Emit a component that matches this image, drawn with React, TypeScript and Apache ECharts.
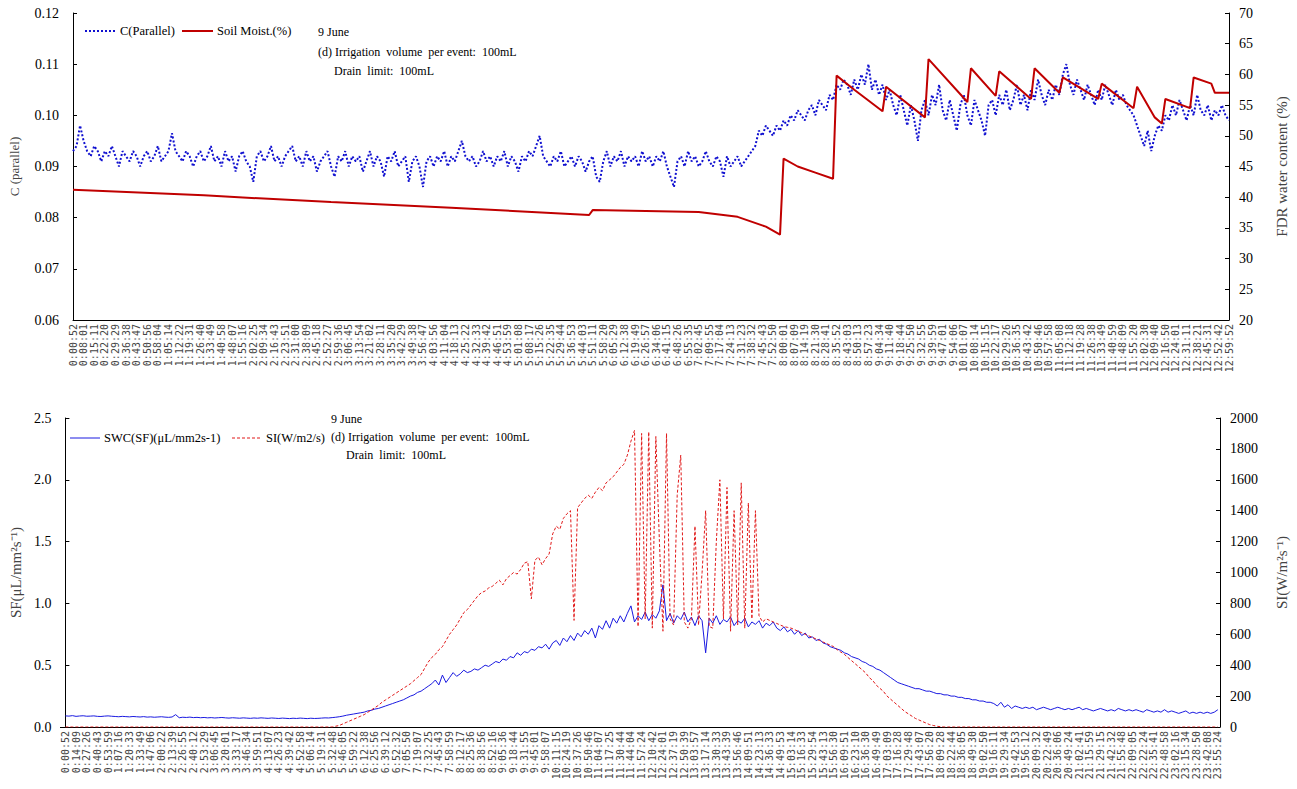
import React, { useEffect, useRef } from "react";
import * as echarts from "echarts";

const topTickLabels = ["0:00:52","0:08:01","0:15:11","0:22:20","0:29:29","0:36:38","0:43:47","0:50:56","0:58:04","1:05:14","1:12:22","1:19:31","1:26:40","1:33:49","1:40:58","1:48:07","1:55:16","2:02:25","2:09:34","2:16:43","2:23:51","2:31:00","2:38:09","2:45:18","2:52:27","2:59:36","3:06:45","3:13:54","3:21:02","3:28:11","3:35:20","3:42:29","3:49:38","3:56:47","4:03:56","4:11:04","4:18:13","4:25:22","4:32:33","4:39:42","4:46:51","4:53:59","5:01:08","5:08:17","5:15:26","5:22:35","5:29:44","5:36:53","5:44:03","5:51:11","5:58:20","6:05:29","6:12:38","6:19:49","6:26:57","6:34:06","6:41:15","6:48:26","6:55:35","7:02:45","7:09:55","7:17:04","7:24:13","7:31:23","7:38:32","7:45:43","7:52:50","8:00:01","8:07:09","8:14:19","8:21:30","8:28:41","8:35:52","8:43:03","8:50:13","8:57:23","9:04:34","9:11:40","9:18:44","9:25:50","9:32:55","9:39:59","9:47:01","9:54:06","10:01:07","10:08:14","10:15:15","10:22:17","10:29:26","10:36:35","10:43:42","10:50:46","10:57:58","11:05:08","11:12:18","11:19:28","11:26:38","11:33:49","11:40:59","11:48:09","11:55:20","12:02:30","12:09:40","12:16:50","12:24:01","12:31:11","12:38:21","12:45:31","12:52:42","12:59:52"];

const bottomTickLabels = ["0:00:52","0:14:09","0:27:26","0:40:43","0:53:59","1:07:16","1:20:33","1:33:49","1:47:06","2:00:22","2:13:39","2:26:55","2:40:12","2:53:29","3:06:45","3:20:01","3:33:17","3:46:34","3:59:51","4:13:07","4:26:23","4:39:42","4:52:58","5:06:14","5:19:31","5:32:48","5:46:05","5:59:22","6:12:38","6:25:56","6:39:12","6:52:32","7:05:50","7:19:07","7:32:25","7:45:43","7:58:59","8:12:17","8:25:36","8:38:56","8:52:16","9:05:36","9:18:44","9:31:55","9:45:01","9:58:07","10:11:15","10:24:19","10:37:26","10:50:46","11:04:07","11:17:25","11:30:44","11:44:04","11:57:24","12:10:42","12:24:01","12:37:19","12:50:39","13:03:57","13:17:14","13:30:33","13:43:39","13:56:46","14:09:51","14:23:13","14:36:33","14:49:53","15:03:14","15:16:33","15:29:54","15:43:13","15:56:30","16:09:51","16:23:10","16:36:30","16:49:49","17:03:09","17:16:28","17:29:48","17:43:07","17:56:20","18:09:28","18:22:44","18:36:05","18:49:30","19:02:50","19:16:11","19:29:34","19:42:53","19:56:12","20:09:32","20:22:49","20:36:06","20:49:24","21:02:41","21:15:59","21:29:15","21:42:32","21:55:48","22:09:05","22:22:24","22:35:41","22:48:58","23:02:16","23:15:34","23:28:50","23:42:08","23:55:24"];

const seriesNames = ["C(Parallel)", "Soil Moist.(%)", "SWC(SF)(μL/mm2s-1)", "SI(W/m2/s)"];
const noteLines = ["9 June", "(d) Irrigation  volume  per event:  100mL", "Drain  limit:  100mL"];

// C(Parallel), 3 samples per top tick interval
const cParallel = [
0.093,0.094,0.098,0.095,0.093,0.092,0.094,0.093,0.091,0.093,0.092,0.094,0.092,0.090,0.093,0.092,0.091,0.093,0.092,0.090,
0.092,0.093,0.091,0.092,0.094,0.091,0.092,0.093,0.0965,0.093,0.092,0.091,0.093,0.092,0.090,0.092,0.093,0.091,0.092,0.094,
0.091,0.092,0.090,0.093,0.091,0.092,0.089,0.092,0.093,0.091,0.090,0.087,0.092,0.093,0.091,0.092,0.094,0.091,0.092,0.090,
0.092,0.093,0.094,0.091,0.092,0.090,0.093,0.091,0.092,0.089,0.091,0.092,0.093,0.090,0.088,0.092,0.091,0.093,0.090,0.092,
0.091,0.092,0.089,0.091,0.093,0.090,0.092,0.091,0.088,0.092,0.091,0.093,0.090,0.091,0.092,0.087,0.091,0.092,0.090,0.086,
0.091,0.092,0.090,0.092,0.091,0.093,0.090,0.092,0.091,0.093,0.095,0.092,0.091,0.092,0.090,0.091,0.093,0.091,0.092,0.090,
0.092,0.091,0.093,0.090,0.092,0.091,0.089,0.092,0.091,0.093,0.092,0.094,0.096,0.092,0.091,0.090,0.092,0.091,0.093,0.090,
0.091,0.092,0.090,0.092,0.091,0.089,0.091,0.092,0.088,0.087,0.091,0.093,0.090,0.092,0.091,0.093,0.090,0.092,0.091,0.092,
0.090,0.093,0.091,0.092,0.090,0.092,0.091,0.093,0.090,0.088,0.086,0.091,0.092,0.090,0.093,0.091,0.092,0.090,0.091,0.093,
0.091,0.090,0.092,0.091,0.088,0.092,0.090,0.091,0.092,0.090,0.091,0.092,0.093,0.094,0.097,0.096,0.098,0.097,0.096,0.098,
0.097,0.099,0.098,0.100,0.099,0.101,0.100,0.099,0.101,0.102,0.100,0.103,0.102,0.101,0.104,0.103,0.106,0.105,0.107,0.106,
0.104,0.107,0.105,0.108,0.106,0.110,0.105,0.107,0.104,0.106,0.103,0.105,0.102,0.100,0.104,0.101,0.098,0.102,0.099,0.095,
0.101,0.103,0.100,0.104,0.102,0.106,0.101,0.099,0.103,0.100,0.097,0.102,0.104,0.100,0.098,0.103,0.101,0.099,0.096,0.102,
0.103,0.100,0.104,0.102,0.105,0.101,0.103,0.106,0.102,0.104,0.101,0.105,0.103,0.107,0.104,0.102,0.105,0.103,0.106,0.104,
0.108,0.110,0.106,0.104,0.107,0.105,0.103,0.106,0.104,0.102,0.105,0.103,0.106,0.104,0.102,0.105,0.103,0.104,0.102,0.101,
0.100,0.098,0.096,0.094,0.097,0.093,0.096,0.098,0.097,0.100,0.099,0.102,0.100,0.103,0.101,0.099,0.102,0.100,0.104,0.101,
0.100,0.102,0.099,0.101,0.100,0.102,0.100,0.099
];

// Soil moisture (%), readings at sample index where the trace bends
const soilMoist = [
[0,41.2],[37,40.3],[73,39.2],[107,38.3],[146,37.1],[147,37.9],[177,37.6],[188,36.8],[196,35.2],[200,33.9],
[201,46.3],[205,45.0],[210,44.0],[215,43.0],[216,59.8],[221,57.5],[229,54.0],[230,58.0],[241,53.0],[242,62.5],
[253,55.5],[254,61.0],[261,56.5],[262,60.5],[271,56.0],[272,61.0],[279,57.0],[280,59.5],[290,56.0],[291,58.5],
[300,54.5],[301,58.0],[306,53.0],[308,52.0],[309,56.0],[316,54.5],[317,59.5],[322,58.5],[323,57.0],[327,57.0]
];

// Sap flow, 3 samples per bottom tick interval
const sapFlow = [
0.09,0.088,0.092,0.086,0.089,0.091,0.087,0.088,0.09,0.086,0.085,0.088,0.09,0.087,0.085,0.083,0.086,0.084,0.082,0.085,
0.083,0.081,0.084,0.08,0.082,0.079,0.081,0.083,0.08,0.078,0.081,0.1,0.075,0.079,0.077,0.08,0.076,0.078,0.075,0.077,
0.074,0.076,0.073,0.075,0.077,0.074,0.072,0.075,0.073,0.071,0.074,0.072,0.07,0.073,0.071,0.074,0.072,0.07,0.073,0.071,
0.069,0.072,0.07,0.068,0.071,0.069,0.072,0.07,0.068,0.071,0.069,0.07,0.072,0.074,0.073,0.076,0.079,0.083,0.088,0.095,
0.1,0.105,0.11,0.115,0.12,0.13,0.135,0.145,0.15,0.16,0.17,0.18,0.19,0.2,0.21,0.22,0.235,0.25,0.26,0.28,
0.29,0.31,0.33,0.35,0.38,0.34,0.42,0.36,0.4,0.44,0.41,0.43,0.46,0.44,0.45,0.47,0.46,0.48,0.5,0.49,
0.51,0.53,0.52,0.55,0.54,0.57,0.56,0.6,0.58,0.61,0.6,0.63,0.62,0.65,0.64,0.67,0.63,0.68,0.7,0.66,
0.72,0.69,0.74,0.7,0.76,0.73,0.78,0.75,0.8,0.72,0.82,0.79,0.86,0.8,0.88,0.84,0.9,0.85,0.92,0.98,
0.85,0.9,0.87,0.93,0.86,0.91,0.88,0.94,1.15,0.86,0.92,0.84,0.9,0.87,0.93,0.85,0.89,0.82,0.9,0.86,
0.6,0.88,0.84,0.9,0.83,0.87,0.85,0.89,0.82,0.86,0.84,0.88,0.81,0.85,0.83,0.86,0.8,0.84,0.82,0.85,
0.8,0.78,0.81,0.77,0.79,0.75,0.78,0.74,0.76,0.72,0.73,0.7,0.71,0.68,0.67,0.65,0.64,0.63,0.62,0.6,
0.59,0.57,0.56,0.55,0.53,0.52,0.5,0.49,0.47,0.46,0.44,0.42,0.4,0.38,0.36,0.35,0.34,0.33,0.32,0.31,
0.31,0.3,0.29,0.29,0.28,0.27,0.27,0.26,0.26,0.25,0.25,0.24,0.24,0.23,0.23,0.22,0.22,0.21,0.21,0.2,
0.2,0.19,0.17,0.2,0.16,0.18,0.15,0.17,0.16,0.15,0.16,0.15,0.16,0.14,0.15,0.16,0.15,0.14,0.15,0.16,
0.15,0.14,0.15,0.14,0.15,0.16,0.14,0.15,0.14,0.13,0.14,0.15,0.14,0.13,0.14,0.13,0.15,0.14,0.13,0.14,
0.13,0.14,0.13,0.12,0.14,0.13,0.12,0.13,0.12,0.14,0.12,0.13,0.12,0.11,0.12,0.13,0.11,0.12,0.11,0.12,
0.11,0.12,0.11,0.12,0.14
];

// Solar irradiance (W/m2/s), 3 samples per bottom tick interval
const solarRad = [
0,0,0,0,0,0,0,0,0,0,0,0,0,0,0,0,0,0,0,0,0,0,0,0,0,
0,0,0,0,0,0,0,0,0,0,0,0,0,0,0,0,0,0,0,0,0,0,0,0,0,
0,0,0,0,0,0,0,0,0,0,0,0,0,0,0,0,0,0,0,0,0,0,0,0,0,
0,5,10,20,30,40,50,60,70,80,95,110,125,140,160,175,190,205,220,235,250,265,280,300,320,
340,380,420,450,470,500,520,560,600,630,660,700,740,760,790,820,850,870,880,900,
910,930,950,920,960,980,1000,990,1020,1060,1070,830,1080,1100,1050,1090,1120,1250,1300,1280,
1350,1380,1400,690,1420,1450,1480,1500,1480,1520,1550,1530,1580,1600,1620,1650,1680,1700,1760,1850,
1920,650,1900,700,1910,640,1880,1200,620,1900,700,660,1500,1760,680,640,700,1300,660,1000,
1400,650,640,1200,1600,700,1550,620,1400,660,1580,640,1450,700,1400,720,680,700,690,680,
670,660,650,645,640,630,620,610,600,590,580,570,560,550,540,530,520,500,485,470,
450,430,410,390,370,350,320,300,270,250,230,200,180,160,140,120,100,85,70,55,
45,35,25,15,10,5,2,
0,0,0,0,0,0,0,0,0,0,0,0,0,0,0,0,0,0,0,0,0,0,0,0,0,0,
0,0,0,0,0,0,0,0,0,0,0,0,0,0,0,0,0,0,0,0,0,0,0,0,0,0,
0,0,0,0,0,0,0,0,0,0,0,0,0,0,0,0,0,0,0,0,0,0,0,0,0,0
];

const SERIF = "'Liberation Serif', 'Times New Roman', serif";
const TICKFONT = "'DejaVu Sans Mono', monospace";
const BLUE_TOP = "#1010d0";
const RED_TOP = "#c00000";
const BLUE_BOT = "#1a1ae0";
const RED_BOT = "#e01818";

export default function App() {
  const ref = useRef<HTMLDivElement>(null);
  useEffect(() => {
    const chart = echarts.init(ref.current!, null, { renderer: "svg" });
    const yAxisBase = {
      type: "value",
      axisLine: { show: true, lineStyle: { color: "#000", width: 1 } },
      axisTick: { show: true, inside: true, length: 4, lineStyle: { color: "#000" } },
      splitLine: { show: false },
      nameLocation: "middle",
    };
    const xAxisBase = {
      type: "value",
      axisLine: { show: true, onZero: false, lineStyle: { color: "#000", width: 1 } },
      axisTick: { show: false },
      splitLine: { show: false },
    };
    const xLabel = (labels: string[]) => ({
      rotate: 90,
      margin: 4,
      fontFamily: TICKFONT,
      fontSize: 10,
      color: "#444",
      showMinLabel: true,
      showMaxLabel: true,
      formatter: (v: number) => labels[Math.round(v / 3)] ?? "",
    });
    const yLabel = (margin: number, digits: number | null) => ({
      fontFamily: SERIF, fontSize: 14, color: "#000", margin,
      formatter: (v: number) => (digits === null ? String(Math.round(v)) : v.toFixed(digits)),
    });
    const text = (x: number, y: number, t: string, size = 12) => ({
      type: "text", left: x, top: y,
      style: { text: t, font: `${size}px ${SERIF}`, fill: "#000" },
    });
    const sample = (x1: number, x2: number, y: number, stroke: string, w: number, dash?: number[]) => ({
      type: "line",
      shape: { x1, y1: y, x2, y2: y },
      style: { stroke, lineWidth: w, lineDash: dash },
    });
    chart.setOption({
      animation: false,
      backgroundColor: "#fff",
      textStyle: { fontFamily: SERIF },
      grid: [
        { left: 67, top: 13, width: 1171, height: 307 },
        { left: 52, top: 418, width: 1176, height: 309 },
      ],
      xAxis: [
        { ...xAxisBase, gridIndex: 0, min: 0, max: 327, interval: 3, axisLabel: xLabel(topTickLabels) },
        {
          ...xAxisBase, gridIndex: 1, min: -1.4, max: 324.6,
          axisLabel: { ...xLabel(bottomTickLabels), customValues: bottomTickLabels.map((_, i) => i * 3) },
        },
      ],
      yAxis: [
        {
          ...yAxisBase, gridIndex: 0, position: "left", min: 0.06, max: 0.12, interval: 0.01,
          axisLabel: yLabel(14, 2),
          name: "C (parallel)", nameGap: 52, nameTextStyle: { fontFamily: SERIF, fontSize: 13, color: "#444" },
        },
        {
          ...yAxisBase, gridIndex: 0, position: "right", min: 20, max: 70, interval: 5,
          axisLabel: yLabel(10, null),
          name: "FDR water content (%)", nameGap: 45, nameTextStyle: { fontFamily: SERIF, fontSize: 15, color: "#444" },
        },
        {
          ...yAxisBase, gridIndex: 1, position: "left", min: 0, max: 2.5, interval: 0.5,
          axisLabel: yLabel(9, 1),
          name: "SF(μL/mm²s⁻¹)", nameGap: 34, nameTextStyle: { fontFamily: SERIF, fontSize: 15, color: "#444" },
        },
        {
          ...yAxisBase, gridIndex: 1, position: "right", min: 0, max: 2000, interval: 200,
          axisLabel: yLabel(10, null),
          name: "SI(W/m²s⁻¹)", nameGap: 54, nameTextStyle: { fontFamily: SERIF, fontSize: 15, color: "#444" },
        },
      ],
      series: [
        {
          name: seriesNames[0], type: "line", xAxisIndex: 0, yAxisIndex: 0, symbol: "none",
          data: cParallel.map((v, i) => [i, v]),
          lineStyle: { color: BLUE_TOP, width: 2, type: "dotted" }, itemStyle: { color: BLUE_TOP },
        },
        {
          name: seriesNames[1], type: "line", xAxisIndex: 0, yAxisIndex: 1, symbol: "none",
          data: soilMoist,
          lineStyle: { color: RED_TOP, width: 2 }, itemStyle: { color: RED_TOP },
        },
        {
          name: seriesNames[2], type: "line", xAxisIndex: 1, yAxisIndex: 2, symbol: "none",
          data: sapFlow.map((v, i) => [i, v]),
          lineStyle: { color: BLUE_BOT, width: 1 }, itemStyle: { color: BLUE_BOT },
        },
        {
          name: seriesNames[3], type: "line", xAxisIndex: 1, yAxisIndex: 3, symbol: "none",
          data: solarRad.map((v, i) => [i, v]),
          lineStyle: { color: RED_BOT, width: 1, type: [3, 2] }, itemStyle: { color: RED_BOT },
        },
      ],
      graphic: [
        // top legend
        sample(85, 116, 31, BLUE_TOP, 2, [2, 2]),
        text(120, 24, seriesNames[0], 12.5),
        sample(182, 213, 31, RED_TOP, 2),
        text(217, 24, seriesNames[1], 12.5),
        // bottom legend
        sample(70, 100, 438, BLUE_BOT, 1),
        text(104, 431, seriesNames[2], 12.5),
        sample(232, 262, 438, RED_BOT, 1, [3, 2]),
        text(266, 431, seriesNames[3], 12.5),
        // notes
        text(318, 26, noteLines[0]),
        text(318, 46, noteLines[1]),
        text(334, 65, noteLines[2]),
        text(331, 413, noteLines[0]),
        text(331, 431, noteLines[1]),
        text(346, 449, noteLines[2]),
      ],
    });
    return () => chart.dispose();
  }, []);
  return <div ref={ref} style={{ position: "absolute", left: 0, top: 0, width: 1297, height: 789 }} />;
}
